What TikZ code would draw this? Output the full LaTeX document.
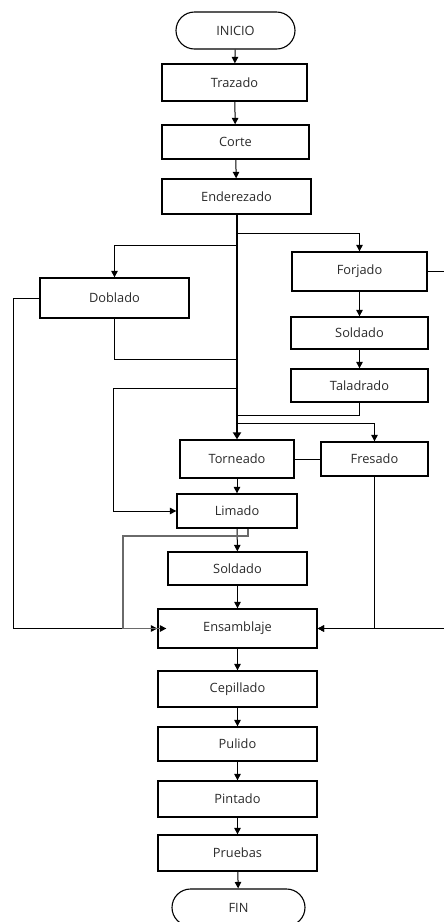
\documentclass[tikz,border=0pt]{standalone}
\usepackage{fontspec}
\setmainfont{Open Sans}
\usetikzlibrary{arrows.meta,shapes.misc,calc}
\definecolor{txt}{HTML}{2A2A2A}
\definecolor{lgray}{HTML}{6A6A6A}
\begin{document}
\begin{tikzpicture}[x=1pt,y=-1pt,
  box/.style={draw=black,line width=1.3pt,rectangle,inner sep=0pt,text=txt,font=\fontsize{12.8}{14}\selectfont},
  term/.style={draw=black,line width=1.1pt,rounded rectangle,inner sep=0pt,text=txt,font=\fontsize{12.8}{14}\selectfont},
  conn/.style={line width=1pt,draw=black},
  arr/.style={conn,-{Triangle[width=6.5pt,length=6.5pt]}},
  trunk/.style={line width=2.6pt,draw=black,-{Triangle[width=8pt,length=7pt]}}
]
\useasboundingbox (0,0) rectangle (444,922);
\clip (0,0) rectangle (444,922);

\node[term,minimum width=119pt,minimum height=37pt] (inicio) at (235.5,30.5) {INICIO};
\node[box,minimum width=145pt,minimum height=37pt] (trazado) at (234.5,82.5) {Trazado};
\node[box,minimum width=147pt,minimum height=34pt] (corte) at (235.5,142) {Corte};
\node[box,minimum width=149pt,minimum height=35pt] (enderezado) at (236.5,196.5) {Enderezado};
\node[box,minimum width=149pt,minimum height=40pt] (doblado) at (114.5,298) {Doblado};
\node[box,minimum width=135pt,minimum height=39pt] (forjado) at (359.5,271.5) {Forjado};
\node[box,minimum width=137pt,minimum height=32pt] (soldadoA) at (359.5,333) {Soldado};
\node[box,minimum width=137pt,minimum height=33pt] (taladrado) at (359.5,385.5) {Taladrado};
\node[box,minimum width=114pt,minimum height=38pt] (torneado) at (237,459) {Torneado};
\node[box,minimum width=107pt,minimum height=34pt] (fresado) at (374.5,459) {Fresado};
\node[box,minimum width=120pt,minimum height=34pt] (limado) at (237,511) {Limado};
\node[box,minimum width=139pt,minimum height=33pt] (soldadoB) at (237.5,568.5) {Soldado};
\node[box,minimum width=159pt,minimum height=39pt] (ensamblaje) at (237.5,628.5) {Ensamblaje};
\node[box,minimum width=159pt,minimum height=36pt] (cepillado) at (237.5,689) {Cepillado};
\node[box,minimum width=159pt,minimum height=34pt] (pulido) at (237.5,744) {Pulido};
\node[box,minimum width=159pt,minimum height=36pt] (pintado) at (237.5,799) {Pintado};
\node[box,minimum width=159pt,minimum height=36pt] (pruebas) at (237.5,853) {Pruebas};
\node[term,minimum width=133pt,minimum height=37pt] (fin) at (238.5,907.5) {FIN};

% trunk junctions
\coordinate (tF) at (237,233);
\coordinate (tD) at (237,245);
\coordinate (tDb) at (237,359);
\coordinate (tL) at (237,388);
\coordinate (tT) at (237,415);
\coordinate (tR) at (237,423);
\coordinate (farR) at (452,271.5);
\coordinate (farL) at (13,298);
\coordinate (lmL) at (113,388);
\coordinate (lmB) at (248,536);
\coordinate (lmX) at (123,536);

% straight chain
\draw[arr] (inicio) -- (trazado);
\draw[arr] (trazado) -- (corte);
\draw[arr] (corte) -- (enderezado);
\draw[trunk] (enderezado.south -| tF) -- (torneado.north -| tF);

% branches from trunk
\draw[arr] (tF) -| (forjado.north);
\draw[arr] (tD) -| (doblado.north);
\draw[conn] (doblado.south) |- (tDb);
\draw[arr] (tL) -- (lmL) |- (limado.west);
\draw[conn] (taladrado.south) |- (tT);
\draw[arr] (tR) -| (fresado.north);

% right column
\draw[arr] (forjado) -- (soldadoA);
\draw[arr] (soldadoA) -- (taladrado);
\draw[conn] (torneado.east) -- (torneado.east -| fresado.west);

% center chain
\draw[arr] (torneado) -- (limado);
\draw[arr] (limado) -- (soldadoB);
\draw[arr] (soldadoB) -- (ensamblaje);
\draw[arr] (ensamblaje) -- (cepillado);
\draw[arr] (cepillado) -- (pulido);
\draw[arr] (pulido) -- (pintado);
\draw[arr] (pintado) -- (pruebas);
\draw[arr] (pruebas) -- (fin);

% feeds into Ensamblaje
\draw[arr] (doblado.west) -- (farL) |- (ensamblaje.west);
\draw[line width=1.4pt,draw=lgray,-{Triangle[width=6.5pt,length=6.5pt,color=black]},shorten >=-9pt] (limado.south -| lmB) -- (lmB) -- (lmX) |- (ensamblaje.west);
\draw[arr] (fresado.south) |- (ensamblaje.east);
\draw[arr] (forjado.east) -- (farR) |- (ensamblaje.east);
\end{tikzpicture}
\end{document}
